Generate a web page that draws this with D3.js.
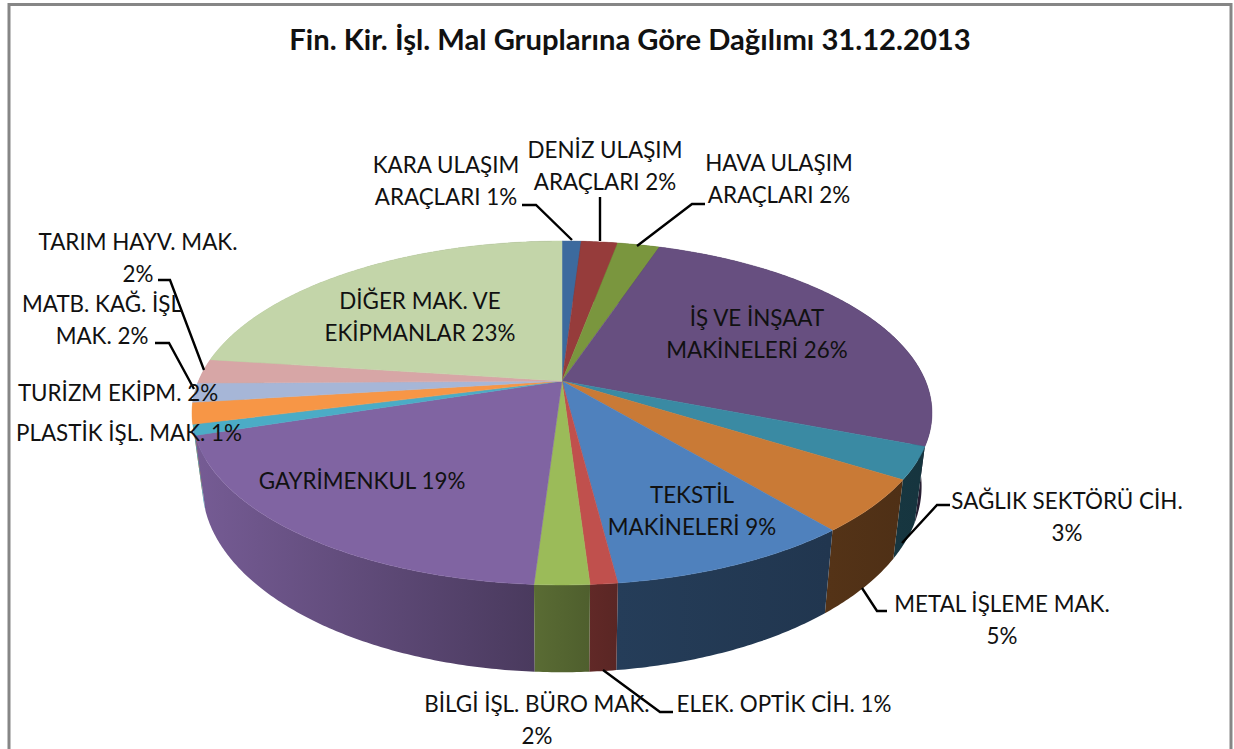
<!DOCTYPE html>
<html lang="tr">
<head>
<meta charset="utf-8">
<title>Fin. Kir. İşl. Mal Gruplarına Göre Dağılımı</title>
<script src="https://cdn.jsdelivr.net/npm/d3@7"></script>
<style>
  html, body { margin: 0; padding: 0; background: #fff; overflow: hidden; }
  text { font-family: Lato, "Open Sans", sans-serif; fill: #111; }
</style>
</head>
<body>
<svg id="chart"></svg>
<script>
const titleText = "Fin. Kir. İşl. Mal Gruplarına Göre Dağılımı 31.12.2013";

// clockwise from 12 o'clock, percent
const categories = ["KARA ULAŞIM ARAÇLARI", "DENİZ ULAŞIM ARAÇLARI", "HAVA ULAŞIM ARAÇLARI",
    "İŞ VE İNŞAAT MAKİNELERİ", "SAĞLIK SEKTÖRÜ CİH.", "METAL İŞLEME MAK.", "TEKSTİL MAKİNELERİ",
    "ELEK. OPTİK CİH.", "BİLGİ İŞL. BÜRO MAK.", "GAYRİMENKUL", "PLASTİK İŞL. MAK.",
    "TURİZM EKİPM.", "MATB. KAĞ. İŞL. MAK.", "TARIM HAYV. MAK.", "DİĞER MAK. VE EKİPMANLAR"];
const values = [1.0, 1.9, 2.2, 25.9, 3.0, 5.0, 9.0, 1.0, 2.0, 19.0, 1.0, 2.0, 1.8, 2.3, 22.9];
const colors = ["#3c6a9e", "#963c3b", "#7a963e", "#674f80", "#3a8aa3", "#c97a36", "#4f81bd",
    "#c0504d", "#9bbb59", "#8064a2", "#4bacc6", "#f79646", "#a6b6d7", "#d7a6a6", "#c3d5a9"];
const labelLines = [
    ["KARA ULAŞIM", "ARAÇLARI 1%"], ["DENİZ ULAŞIM", "ARAÇLARI 2%"], ["HAVA ULAŞIM", "ARAÇLARI 2%"],
    ["İŞ VE İNŞAAT", "MAKİNELERİ 26%"], ["SAĞLIK SEKTÖRÜ CİH.", "3%"], ["METAL İŞLEME MAK.", "5%"],
    ["TEKSTİL", "MAKİNELERİ 9%"], ["ELEK. OPTİK CİH. 1%"], ["BİLGİ İŞL. BÜRO MAK.", "2%"],
    ["GAYRİMENKUL 19%"], ["PLASTİK İŞL. MAK. 1%"], ["TURİZM EKİPM. 2%"],
    ["MATB. KAĞ. İŞL", "MAK. 2%"], ["TARIM HAYV. MAK.", "2%"], ["DİĞER MAK. VE", "EKİPMANLAR 23%"]
];

// where each label sits: [center x, first baseline]
const labelPos = [[446, 173], [605, 158], [779, 171], [757, 326], [1067, 509], [1002, 612], [692, 503],
    [784, 712], [537, 712], [362, 489], [129, 441], [118, 401], [102, 312], [138, 250], [420, 309]];

// leader lines, null when the label sits on its slice
const leaders = [
    [[522, 205], [536, 205], [572, 240]], [[600, 197], [600, 241]], [[705, 204], [692, 204], [637, 246]],
    null, [[950, 505], [937, 505], [902, 543]], [[887, 611], [877, 611], [862, 588]], null,
    [[673, 712], [660, 712], [603, 670]], null, null, null, null,
    [[155, 343], [169, 343], [194, 389]], [[158, 280], [170, 280], [204, 370]], null
];

const width = 1234, height = 749;
const cx = 562, cy = 381;      // point where all the slices meet
const radiusX = 363.5, radiusY = 166, tilt = 0.186;

const svg = d3.select("#chart").attr("width", width).attr("height", height);
svg.style("display", "block");

// chart frame, bottom edge falls outside the picture
svg.append("rect")
    .attr("x", 9).attr("y", 4.5)
    .attr("width", 1222).attr("height", 800)
    .attr("fill", "#fff").attr("stroke", "#868686").attr("stroke-width", 3);

svg.append("text")
    .attr("x", 630).attr("y", 50)
    .attr("text-anchor", "middle")
    .attr("font-size", 29.2).attr("font-weight", "bold")
    .text(titleText);

// top rim and bottom rim of the pie, the lower one is seen a bit steeper
const xTop = d3.scaleLinear().domain([-1, 1]).range([cx - radiusX, cx + radiusX]);
const yTop = d3.scaleLinear().domain([-1, 1]).range([cy - radiusY, cy + radiusY]);
const xBottom = d3.scaleLinear().domain([-1, 1]).range([cx - radiusX * 0.972, cx + radiusX * 0.972]);
const yBottom = d3.scaleLinear().domain([-1, 1]).range([452 - radiusY * 1.08, 452 + radiusY * 1.08]);

function rim(angle, xs, ys) {
    const u = Math.sin(angle), v = -Math.cos(angle), w = 1 - tilt * v;
    return [xs(u / w), ys(v / w)];
}

function arcAngles(d) {
    const n = Math.max(2, Math.ceil((d.endAngle - d.startAngle) / 0.01));
    return d3.range(n + 1).map(i => d.startAngle + (d.endAngle - d.startAngle) * i / n);
}

const pie = d3.pie().sort(null).value(d => d.value);
const slices = pie(categories.map((name, i) => ({name: name, value: values[i], color: colors[i]})));
const line = d3.line();

// side walls get darker to the right
const shadeStops = [[0, 0.92], [0.46, 0.58], [0.575, 0.47], [0.86, 0.42], [1, 0.38]];
const defs = svg.append("defs");
slices.forEach((d, i) => {
    const base = d3.rgb(d.data.color);
    defs.append("linearGradient")
        .attr("id", "wall" + i)
        .attr("gradientUnits", "userSpaceOnUse")
        .attr("x1", xTop(-1.02)).attr("x2", xTop(1.02))
        .attr("y1", 0).attr("y2", 0)
        .selectAll("stop")
        .data(shadeStops)
        .join("stop")
        .attr("offset", s => s[0])
        .attr("stop-color", s => d3.rgb(base.r * s[1], base.g * s[1], base.b * s[1]).formatHex());
});

// walls back to front so the ones nearest the bottom win
const order = d3.range(slices.length).sort((a, b) => {
    const mid = d => Math.abs((d.startAngle + d.endAngle) / 2 - Math.PI);
    return mid(slices[b]) - mid(slices[a]);
});

svg.append("g").selectAll("path")
    .data(order)
    .join("path")
    .attr("d", i => {
        const angles = arcAngles(slices[i]);
        const upper = angles.map(a => rim(a, xTop, yTop));
        const lower = angles.slice().reverse().map(a => rim(a, xBottom, yBottom));
        return line(upper.concat(lower)) + "Z";
    })
    .attr("fill", i => `url(#wall${i})`);

svg.append("g").selectAll("path")
    .data(slices)
    .join("path")
    .attr("d", d => line([[cx, cy]].concat(arcAngles(d).map(a => rim(a, xTop, yTop)))) + "Z")
    .attr("fill", d => d.data.color)
    .attr("stroke", d => d.data.color)
    .attr("stroke-width", 0.5);

svg.append("g").selectAll("path")
    .data(leaders.filter(l => l))
    .join("path")
    .attr("d", l => line(l))
    .attr("fill", "none")
    .attr("stroke", "#000")
    .attr("stroke-width", 2.4);

const labels = svg.append("g").attr("font-size", 22.4).attr("text-anchor", "middle");
labelLines.forEach((lines, i) => {
    lines.forEach((t, j) => {
        labels.append("text")
            .attr("x", labelPos[i][0])
            .attr("y", labelPos[i][1] + j * 32)
            .text(t);
    });
});
</script>
</body>
</html>
